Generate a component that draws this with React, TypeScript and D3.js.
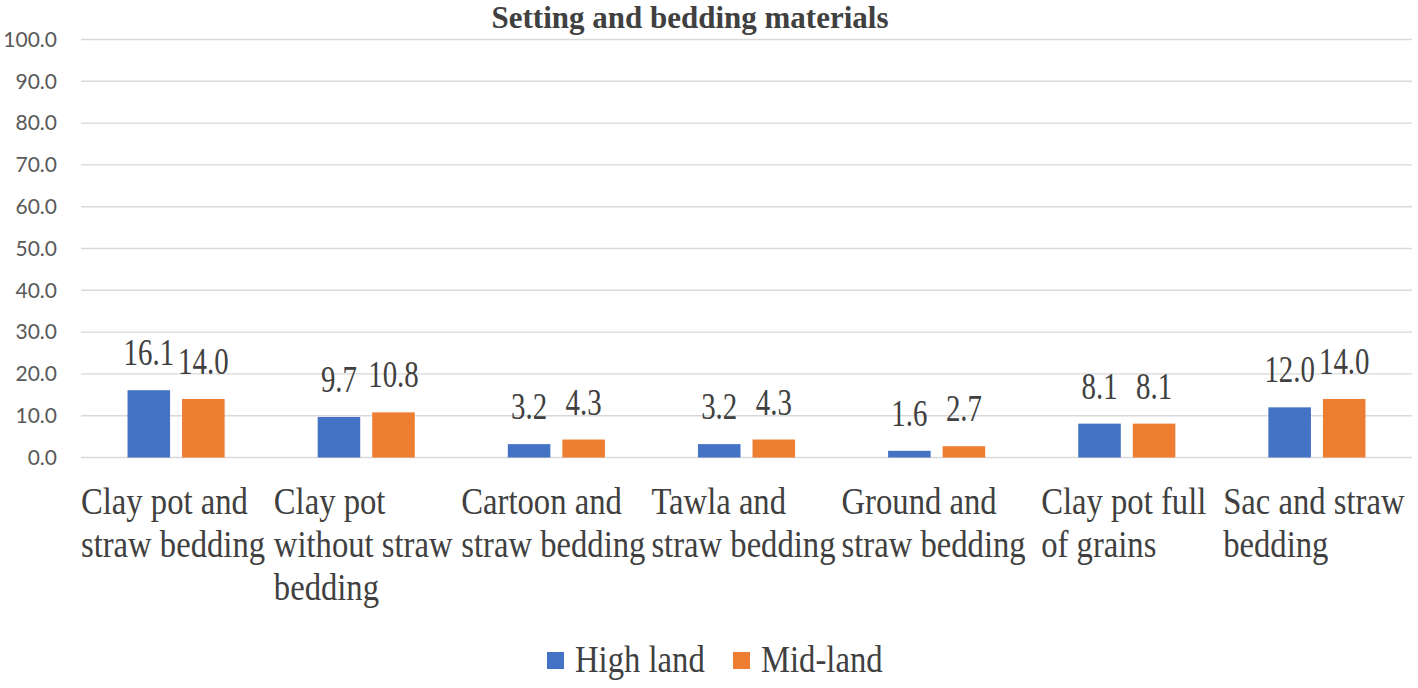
import React, { useMemo } from "react";
import * as d3 from "d3";

const title = "Setting and bedding materials";
const categories: string[][] = [
  ["Clay pot and", "straw bedding"],
  ["Clay pot", "without straw", "bedding"],
  ["Cartoon and", "straw bedding"],
  ["Tawla and", "straw bedding"],
  ["Ground and", "straw bedding"],
  ["Clay pot full", "of grains"],
  ["Sac and straw", "bedding"],
];
const seriesNames = ["High land", "Mid-land"];
const highLand = [16.1, 9.7, 3.2, 3.2, 1.6, 8.1, 12.0];
const midLand = [14.0, 10.8, 4.3, 4.3, 2.7, 8.1, 14.0];
const seriesColors = ["#4472C4", "#ED7D31"];

const W = 1418;
const H = 688;
const SERIF = "'Liberation Serif', 'Times New Roman', serif";
const SANS = "Lato, 'Liberation Sans', sans-serif";
const TXT = "#404040";
const CAT_FS = 38;
const CAT_SX = 0.86;

export default function App() {
  const x = d3
    .scaleBand<number>()
    .domain(categories.map((_, i) => i))
    .range([81, 1412])
    .paddingInner(0)
    .paddingOuter(0);
  const xs = d3
    .scaleBand<string>()
    .domain(seriesNames)
    .range([0, x.bandwidth()])
    .paddingInner(0.22)
    .paddingOuter(0.853);
  const y = d3.scaleLinear().domain([0, 100]).range([457.5, 39.5]);
  const ticks = y.ticks(10);
  const series = [highLand, midLand];

  // width of the widest line of each category label (block centred, lines left-aligned)
  const blockWidths = useMemo(() => {
    const canvas = document.createElement("canvas");
    const ctx = canvas.getContext("2d");
    return categories.map((lines) => {
      if (!ctx) return 180;
      ctx.font = `${CAT_FS}px ${SERIF}`;
      return d3.max(lines, (l) => ctx.measureText(l).width * CAT_SX) || 0;
    });
  }, []);

  return (
    <svg
      width={W}
      height={H}
      style={{ position: "absolute", left: 0, top: 0, background: "#fff" }}
    >
      <rect x={0} y={0} width={W} height={H} fill="#fff" />
      <text
        x={690}
        y={28}
        textAnchor="middle"
        fontFamily={SERIF}
        fontWeight="bold"
        fontSize={31}
        fill={TXT}
      >
        {title}
      </text>
      {ticks.map((t) => (
        <g key={t}>
          <line
            x1={81}
            x2={1412}
            y1={y(t)}
            y2={y(t)}
            stroke="#d9d9d9"
            strokeWidth={1.4}
          />
          <text
            x={57}
            y={y(t)}
            dy="0.35em"
            textAnchor="end"
            fontFamily={SANS}
            fontSize={21}
            fill="#595959"
          >
            {t.toFixed(1)}
          </text>
        </g>
      ))}
      {series.map((vals, si) =>
        vals.map((v, i) => {
          const bx = (x(i) as number) + (xs(seriesNames[si]) as number);
          const bw = xs.bandwidth();
          return (
            <g key={`${si}-${i}`}>
              <rect
                x={bx}
                y={y(v)}
                width={bw}
                height={y(0) - y(v)}
                fill={seriesColors[si]}
              />
              <text
                transform={`translate(${bx + bw / 2},${y(v) - 25}) scale(${0.76},1)`}
                textAnchor="middle"
                fontFamily={SERIF}
                fontSize={38}
                fill={TXT}
              >
                {v.toFixed(1)}
              </text>
            </g>
          );
        })
      )}
      {categories.map((lines, i) => {
        const cx = (x(i) as number) + x.bandwidth() / 2 - 3;
        const left = cx - blockWidths[i] / 2;
        return (
          <g key={i}>
            {lines.map((ln, li) => (
              <text
                key={li}
                transform={`translate(${left},${514 + li * 43}) scale(${CAT_SX},1)`}
                textAnchor="start"
                fontFamily={SERIF}
                fontSize={CAT_FS}
                fill={TXT}
              >
                {ln}
              </text>
            ))}
          </g>
        );
      })}
      {seriesNames.map((n, si) => {
        const lx = si === 0 ? 547 : 733;
        return (
          <g key={n}>
            <rect x={lx} y={652} width={17} height={17} fill={seriesColors[si]} />
            <text
              transform={`translate(${lx + 28},${672}) scale(0.86,1)`}
              fontFamily={SERIF}
              fontSize={38}
              fill={TXT}
            >
              {n}
            </text>
          </g>
        );
      })}
    </svg>
  );
}
